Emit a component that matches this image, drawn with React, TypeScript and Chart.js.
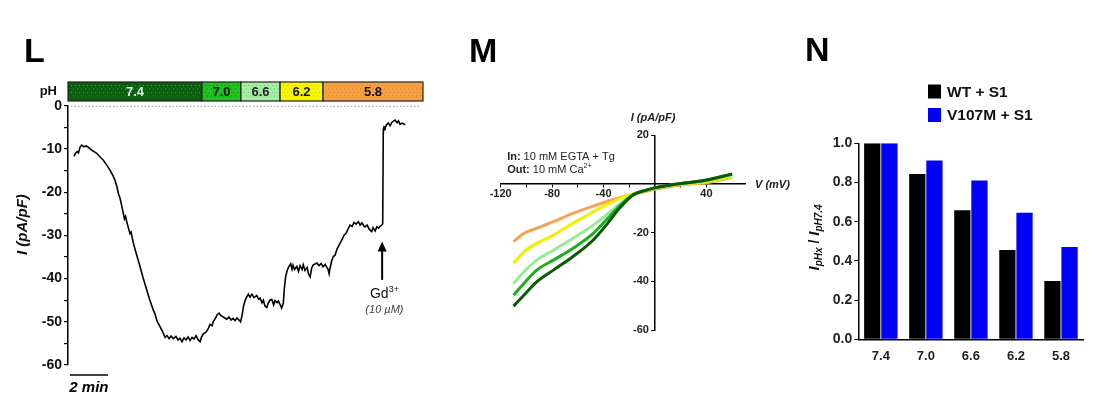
import React, { useEffect, useRef } from 'react';
import { Chart, registerables } from 'chart.js';

Chart.register(...registerables);

const FONT = 'Arial, "Liberation Sans", Helvetica, sans-serif';
Chart.defaults.font.family = FONT;

// ---------- Panel L : current trace (time in minutes, current in pA/pF) ----------
const traceTime = [0.32,0.39,0.49,0.55,0.63,0.72,0.84,0.95,1.07,1.26,1.51,1.68,1.86,2.05,2.21,2.37,2.47,2.58,2.65,2.74,2.82,2.91,2.97,3.03,3.11,3.17,3.26,3.32,3.44,3.58,3.79,3.95,4.14,4.32,4.49,4.58,4.68,4.84,4.97,5.11,5.21,5.32,5.42,5.54,5.68,5.79,5.89,6.0,6.11,6.21,6.32,6.42,6.53,6.63,6.74,6.84,6.95,7.03,7.12,7.26,7.38,7.47,7.58,7.65,7.74,7.84,7.95,8.05,8.21,8.35,8.47,8.58,8.68,8.79,8.89,9.0,9.08,9.16,9.23,9.32,9.41,9.49,9.58,9.68,9.79,9.93,10.03,10.11,10.21,10.28,10.37,10.46,10.53,10.63,10.72,10.82,10.89,11.0,11.07,11.16,11.24,11.33,11.38,11.45,11.53,11.61,11.72,11.79,11.84,11.92,12.04,12.13,12.21,12.32,12.38,12.47,12.58,12.66,12.74,12.82,12.89,13.0,13.09,13.21,13.32,13.42,13.53,13.62,13.68,13.74,13.79,13.87,13.96,14.05,14.16,14.32,14.42,14.53,14.63,14.75,14.84,14.95,15.05,15.16,15.28,15.37,15.47,15.58,15.63,15.74,15.84,15.98,16.05,16.16,16.25,16.34,16.42,16.51,16.56,16.59,16.63,16.68,16.76,16.86,16.95,17.05,17.21,17.32,17.39,17.47,17.58,17.74];
const traceCurrent = [-11.7,-11.0,-10.6,-10.9,-9.6,-9.1,-9.5,-9.3,-9.6,-10.3,-11.0,-11.8,-12.6,-13.8,-14.9,-16.2,-17.2,-18.8,-20.3,-21.4,-23.0,-24.9,-26.2,-25.6,-27.2,-28.1,-29.6,-29.2,-31.8,-34.0,-37.2,-39.8,-42.6,-45.2,-47.3,-48.2,-49.8,-51.1,-52.2,-53.6,-53.2,-53.9,-53.3,-53.9,-53.4,-54.2,-53.8,-54.6,-53.7,-54.2,-53.5,-54.3,-53.6,-54.0,-53.2,-54.1,-54.6,-53.5,-52.8,-52.4,-51.6,-50.6,-50.9,-49.9,-49.3,-48.4,-48.0,-48.6,-49.0,-49.4,-48.9,-49.6,-49.2,-49.7,-49.1,-49.6,-50.0,-48.5,-46.5,-45.1,-44.2,-43.6,-44.3,-43.6,-44.4,-43.9,-44.8,-44.5,-45.6,-45.0,-46.4,-46.7,-45.7,-45.0,-44.8,-46.1,-45.1,-45.6,-45.2,-46.0,-46.8,-45.7,-42.5,-39.6,-38.2,-37.3,-36.6,-37.8,-36.9,-37.9,-37.2,-38.3,-37.0,-37.9,-36.8,-38.1,-37.4,-39.0,-39.6,-37.6,-36.9,-36.6,-36.4,-37.0,-36.5,-37.3,-36.7,-37.4,-37.8,-38.9,-37.6,-36.0,-34.9,-34.6,-33.1,-31.8,-31.0,-29.9,-29.5,-28.4,-27.6,-27.9,-27.0,-27.4,-26.8,-27.6,-27.1,-27.9,-28.0,-27.6,-28.5,-29.1,-28.2,-29.0,-28.0,-28.3,-27.9,-27.6,-27.3,-5.5,-4.9,-5.2,-4.4,-4.0,-4.6,-3.8,-3.3,-3.9,-3.5,-4.3,-4.0,-4.4];

// pH bar segments (start time of each solution, minutes)
const phLabels = ['7.4', '7.0', '6.6', '6.2', '5.8'];
const phStart = [0, 7.05, 9.1, 11.16, 13.42];
const phEnd = 18.68;
const phColors = ['#0b5e0e', '#1fc21f', '#a6eea6', '#f6f600', '#f5a045'];
const phDotColors = ['#4f9a4f', '#0c7a0c', '#6cc06c', '#c8c800', '#d98020'];
const phTextColors = ['#e8e8e8', '#111', '#222', '#111', '#111'];

// Gd3+ application time and arrow span (pA/pF)
const gdTime = 16.53;
const gdArrowFrom = -40.3;
const gdArrowTo = -31.4;
const lTickLabels = [0, -10, -20, -30, -40, -50, -60];

// ---------- Panel M : I-V curves ----------
const ivVoltage = [-110, -102, -92, -79, -64, -48, -38, -27, -17, -6.5, 0.5, 12, 25, 40, 51, 60];
const ivPH74 = [-50.2, -45.7, -40.2, -35.4, -29.9, -23.0, -16.9, -9.6, -4.5, -2.5, -1.5, -0.4, 0.5, 1.6, 3.0, 4.1];
const ivPH70 = [-45.7, -40.9, -35.4, -31.3, -26.5, -20.3, -14.8, -8.8, -4.3, -2.4, -1.5, -0.4, 0.5, 1.5, 2.9, 4.0];
const ivPH66 = [-40.9, -36.1, -31.3, -27.2, -22.4, -16.9, -12.8, -8.0, -4.5, -2.6, -1.6, -0.5, 0.4, 1.4, 2.7, 3.7];
const ivPH62 = [-32.6, -27.9, -24.4, -21.0, -16.2, -11.4, -8.6, -5.9, -4.1, -2.7, -1.7, -0.6, 0.1, 0.9, 2.0, 3.0];
const ivPH58 = [-23.7, -20.3, -18.2, -15.5, -12.1, -9.1, -7.3, -5.5, -4.3, -3.0, -2.1, -1.0, -0.2, 0.5, 1.6, 2.7];
const ivColors = ['#0a5a0a', '#1bb01b', '#98ec98', '#f0f000', '#f4a452'];
const mXLabels = [-120, -80, -40, 40];

// ---------- Panel N : normalized current ----------
const nSeries = ['WT + S1', 'V107M + S1'];
const nWT = [1.0, 0.844, 0.658, 0.456, 0.298];
const nV107M = [1.0, 0.912, 0.81, 0.646, 0.471];
const nColors = ['#000000', '#0000ff'];

type Part = { t: string; font: string; dy?: number };

function drawParts(ctx: CanvasRenderingContext2D, parts: Part[], x: number, y: number, align: 'left' | 'center') {
  let total = 0;
  for (const p of parts) { ctx.font = p.font; total += ctx.measureText(p.t).width; }
  let cx = align === 'center' ? x - total / 2 : x;
  ctx.textAlign = 'left';
  for (const p of parts) {
    ctx.font = p.font;
    ctx.fillText(p.t, cx, y + (p.dy || 0));
    cx += ctx.measureText(p.t).width;
  }
}

const lPlugin = {
  id: 'lDecor',
  afterDraw(chart: any) {
    const { ctx } = chart;
    const x = chart.scales.x;
    const y = chart.scales.y;
    ctx.save();
    ctx.fillStyle = '#000';
    ctx.textBaseline = 'alphabetic';
    ctx.font = `bold 34px ${FONT}`;
    ctx.textAlign = 'left';
    ctx.fillText('L', 24, 62);

    // pH bar
    const top = 82, bottom = 101;
    for (let i = 0; i < phLabels.length; i++) {
      const x0 = x.getPixelForValue(phStart[i]);
      const x1 = x.getPixelForValue(i < phLabels.length - 1 ? phStart[i + 1] : phEnd);
      ctx.fillStyle = phColors[i];
      ctx.fillRect(x0, top, x1 - x0, bottom - top);
      ctx.fillStyle = phDotColors[i];
      let row = 0;
      for (let py = top + 3; py < bottom - 2; py += 3.5) {
        for (let px = x0 + 3 + (row % 2) * 2; px < x1 - 2; px += 4) ctx.fillRect(px, py, 1, 1);
        row++;
      }
      ctx.strokeStyle = '#222';
      ctx.lineWidth = 1.2;
      ctx.strokeRect(x0, top, x1 - x0, bottom - top);
      ctx.fillStyle = phTextColors[i];
      ctx.font = `bold 13px ${FONT}`;
      ctx.textAlign = 'center';
      ctx.textBaseline = 'middle';
      ctx.fillText(phLabels[i], (x0 + x1) / 2, (top + bottom) / 2 + 1);
    }
    ctx.fillStyle = '#111';
    ctx.textAlign = 'right';
    ctx.font = `bold 13px ${FONT}`;
    ctx.fillText('pH', x.getPixelForValue(0) - 11, 91);

    // dotted zero line
    ctx.beginPath();
    ctx.setLineDash([1.5, 2]);
    ctx.strokeStyle = '#999';
    ctx.lineWidth = 1;
    const y0 = y.getPixelForValue(0) + 0.5;
    ctx.moveTo(x.getPixelForValue(0) + 3, y0);
    ctx.lineTo(x.getPixelForValue(phEnd) - 3, y0);
    ctx.stroke();
    ctx.setLineDash([]);

    // arrow for Gd3+
    const ax = x.getPixelForValue(gdTime);
    const ay0 = y.getPixelForValue(gdArrowFrom);
    const ay1 = y.getPixelForValue(gdArrowTo);
    ctx.strokeStyle = '#000';
    ctx.lineWidth = 2;
    ctx.beginPath();
    ctx.moveTo(ax, ay0);
    ctx.lineTo(ax, ay1 + 8);
    ctx.stroke();
    ctx.fillStyle = '#000';
    ctx.beginPath();
    ctx.moveTo(ax, ay1);
    ctx.lineTo(ax - 4.5, ay1 + 10);
    ctx.lineTo(ax + 4.5, ay1 + 10);
    ctx.closePath();
    ctx.fill();

    ctx.textBaseline = 'middle';
    ctx.fillStyle = '#111';
    drawParts(ctx, [
      { t: 'Gd', font: `14px ${FONT}` },
      { t: '3+', font: `9px ${FONT}`, dy: -5 },
    ], x.getPixelForValue(gdTime + 0.12), y.getPixelForValue(-43.6), 'center');
    ctx.fillStyle = '#444';
    ctx.font = `italic 11px ${FONT}`;
    ctx.textAlign = 'center';
    ctx.fillText('(10 \u00b5M)', x.getPixelForValue(gdTime + 0.12), y.getPixelForValue(-47.2));

    // time scale bar
    const sy = y.getPixelForValue(-62.3);
    ctx.strokeStyle = '#000';
    ctx.lineWidth = 1.5;
    ctx.beginPath();
    ctx.moveTo(x.getPixelForValue(0.1), sy);
    ctx.lineTo(x.getPixelForValue(2.1), sy);
    ctx.stroke();
    ctx.fillStyle = '#000';
    ctx.font = `bold italic 15px ${FONT}`;
    ctx.fillText('2 min', x.getPixelForValue(1.1), y.getPixelForValue(-65.4));

    // y title
    ctx.save();
    ctx.translate(23, y.getPixelForValue(-27.5));
    ctx.rotate(-Math.PI / 2);
    ctx.font = `bold italic 15px ${FONT}`;
    ctx.textAlign = 'center';
    ctx.textBaseline = 'middle';
    ctx.fillStyle = '#111';
    ctx.fillText('I (pA/pF)', 0, 0);
    ctx.restore();
    ctx.restore();
  },
};

const mPlugin = {
  id: 'mDecor',
  afterDraw(chart: any) {
    const { ctx, chartArea } = chart;
    const x = chart.scales.x;
    const y = chart.scales.y;
    ctx.save();
    ctx.fillStyle = '#000';
    ctx.font = `bold 34px ${FONT}`;
    ctx.textAlign = 'left';
    ctx.textBaseline = 'alphabetic';
    ctx.fillText('M', 29, 62);

    ctx.fillStyle = '#222';
    ctx.font = `bold italic 11px ${FONT}`;
    ctx.textAlign = 'center';
    ctx.textBaseline = 'middle';
    ctx.fillText('I (pA/pF)', x.getPixelForValue(0) - 2, y.getPixelForValue(20) - 17);
    ctx.textAlign = 'left';
    ctx.fillText('V (mV)', chartArea.right + 10, y.getPixelForValue(0) + 1);

    ctx.fillStyle = '#222';
    ctx.textBaseline = 'middle';
    drawParts(ctx, [
      { t: 'In:', font: `bold 11px ${FONT}` },
      { t: ' 10 mM EGTA + Tg', font: `11px ${FONT}` },
    ], x.getPixelForValue(-115), y.getPixelForValue(11), 'left');
    drawParts(ctx, [
      { t: 'Out:', font: `bold 11px ${FONT}` },
      { t: ' 10 mM Ca', font: `11px ${FONT}` },
      { t: '2+', font: `7px ${FONT}`, dy: -4 },
    ], x.getPixelForValue(-115), y.getPixelForValue(5.8), 'left');
    ctx.restore();
  },
};

const nPlugin = {
  id: 'nDecor',
  afterDraw(chart: any) {
    const { ctx } = chart;
    const y = chart.scales.y;
    ctx.save();
    ctx.fillStyle = '#000';
    ctx.font = `bold 34px ${FONT}`;
    ctx.textAlign = 'left';
    ctx.textBaseline = 'alphabetic';
    ctx.fillText('N', 15, 61);

    // legend
    const ds = chart.data.datasets;
    const rows = [91.5, 115];
    for (let i = 0; i < ds.length; i++) {
      ctx.fillStyle = ds[i].backgroundColor;
      ctx.fillRect(138, rows[i] - 7, 13, 14);
      ctx.fillStyle = '#111';
      ctx.font = `bold 15.5px ${FONT}`;
      ctx.textBaseline = 'middle';
      ctx.fillText(ds[i].label, 157, rows[i] + 1);
    }

    // y title with subscripts
    ctx.save();
    ctx.translate(25, y.getPixelForValue(0.52));
    ctx.rotate(-Math.PI / 2);
    ctx.fillStyle = '#111';
    ctx.textBaseline = 'middle';
    drawParts(ctx, [
      { t: 'I', font: `bold italic 15px ${FONT}` },
      { t: 'pHx', font: `bold italic 10px ${FONT}`, dy: 4 },
      { t: ' / ', font: `bold 14px ${FONT}` },
      { t: 'I', font: `bold italic 15px ${FONT}` },
      { t: 'pH7.4', font: `bold italic 10px ${FONT}`, dy: 4 },
    ], 0, 0, 'center');
    ctx.restore();
    ctx.restore();
  },
};

function lConfig(): any {
  return {
    type: 'line',
    data: {
      datasets: [{
        data: traceTime.map((t, i) => ({ x: t, y: traceCurrent[i] })),
        borderColor: '#000',
        borderWidth: 1.6,
        pointRadius: 0,
        tension: 0,
      }],
    },
    options: {
      responsive: false,
      animation: false,
      events: [],
      layout: { padding: { left: 0, top: 105.8, right: 17, bottom: 29 } },
      plugins: { legend: { display: false }, tooltip: { enabled: false } },
      scales: {
        x: { type: 'linear', display: false, min: 0, max: phEnd },
        y: {
          type: 'linear', min: -60, max: 0,
          afterFit: (s: any) => { s.width = 68; },
          ticks: {
            stepSize: 5,
            color: '#111',
            padding: 2,
            font: { size: 14, weight: 'bold' },
            callback: (v: number) => (lTickLabels.includes(v) ? String(v) : ''),
          },
          grid: { drawOnChartArea: false, tickLength: 4, color: '#000', lineWidth: 1.2 },
          border: { color: '#000', width: 1.5 },
        },
      },
    },
    plugins: [lPlugin],
  };
}

function mConfig(): any {
  const series = [ivPH74, ivPH70, ivPH66, ivPH62, ivPH58];
  return {
    type: 'line',
    data: {
      datasets: series.map((s, k) => ({
        label: 'pH ' + phLabels[k],
        data: ivVoltage.map((v, i) => ({ x: v, y: s[i] })),
        borderColor: ivColors[k],
        borderWidth: 3,
        pointRadius: 0,
        cubicInterpolationMode: 'monotone',
      })),
    },
    options: {
      responsive: false,
      animation: false,
      events: [],
      layout: { padding: { left: 60.7, top: 135.3, right: 45, bottom: 64 } },
      plugins: { legend: { display: false }, tooltip: { enabled: false } },
      scales: {
        x: {
          type: 'linear', min: -120, max: 70, position: { y: 0 },
          afterBuildTicks: (s: any) => { s.ticks = s.ticks.filter((t: any) => t.value % 20 === 0); },
          ticks: {
            stepSize: 20, autoSkip: false, maxRotation: 0, color: '#222', padding: 0,
            font: { size: 11, weight: 'bold' },
            callback: (v: number) => (mXLabels.includes(v) ? String(v) : ''),
          },
          grid: { drawOnChartArea: false, tickLength: 3, color: '#000' },
          border: { color: '#000', width: 1.5 },
        },
        y: {
          type: 'linear', min: -60, max: 20, position: { x: 0 },
          ticks: {
            stepSize: 20, color: '#222', padding: 2,
            font: { size: 11, weight: 'bold' },
            callback: (v: number) => (v === 0 ? '' : String(v) + '\u00a0\u00a0'),
          },
          grid: { drawOnChartArea: false, tickLength: 3, color: '#000' },
          border: { color: '#000', width: 1.5 },
        },
      },
    },
    plugins: [mPlugin],
  };
}

function nConfig(): any {
  return {
    type: 'bar',
    data: {
      labels: phLabels,
      datasets: [
        { label: nSeries[0], data: nWT, backgroundColor: nColors[0] },
        { label: nSeries[1], data: nV107M, backgroundColor: nColors[1] },
      ],
    },
    options: {
      responsive: false,
      animation: false,
      events: [],
      layout: { padding: { left: 0, top: 143.3, right: 10.5, bottom: 0 } },
      plugins: { legend: { display: false }, tooltip: { enabled: false } },
      datasets: { bar: { categoryPercentage: 0.76, barPercentage: 0.95 } },
      scales: {
        x: {
          afterFit: (s: any) => { s.height = 54.7; },
          ticks: { color: '#222', padding: 9, font: { size: 13, weight: 'bold' } },
          grid: { drawOnChartArea: false, drawTicks: false },
          border: { color: '#000', width: 1.5 },
        },
        y: {
          min: 0, max: 1,
          afterFit: (s: any) => { s.width = 68.3; },
          ticks: {
            stepSize: 0.2, color: '#222', padding: 2,
            font: { size: 14, weight: 'bold' },
            callback: (v: number) => v.toFixed(1),
          },
          grid: { drawOnChartArea: false, tickLength: 4, color: '#000' },
          border: { color: '#000', width: 1.5 },
        },
      },
    },
    plugins: [nPlugin],
  };
}

export default function App() {
  const lRef = useRef<HTMLCanvasElement>(null);
  const mRef = useRef<HTMLCanvasElement>(null);
  const nRef = useRef<HTMLCanvasElement>(null);

  useEffect(() => {
    const charts = [
      new Chart(lRef.current as HTMLCanvasElement, lConfig()),
      new Chart(mRef.current as HTMLCanvasElement, mConfig()),
      new Chart(nRef.current as HTMLCanvasElement, nConfig()),
    ];
    return () => charts.forEach((c) => c.destroy());
  }, []);

  return (
    <div style={{ position: 'fixed', left: 0, top: 0, width: 1094, height: 394, background: '#fff', overflow: 'hidden' }}>
      <canvas ref={lRef} width={440} height={394} style={{ position: 'absolute', left: 0, top: 0 }} />
      <canvas ref={mRef} width={350} height={394} style={{ position: 'absolute', left: 440, top: 0 }} />
      <canvas ref={nRef} width={304} height={394} style={{ position: 'absolute', left: 790, top: 0 }} />
    </div>
  );
}
